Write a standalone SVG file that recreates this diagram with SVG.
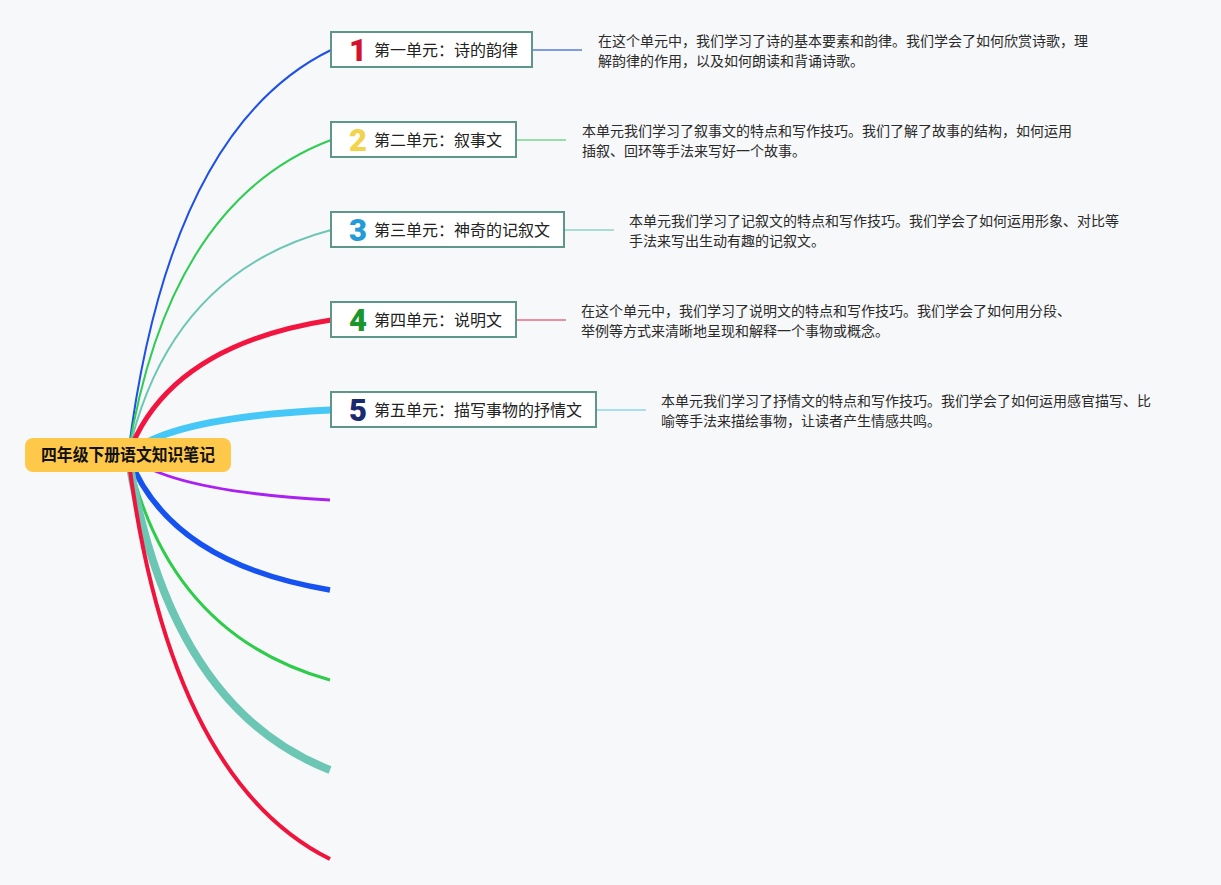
<svg xmlns="http://www.w3.org/2000/svg" width="1221" height="885" viewBox="0 0 1221 885">
<style>
.bg{fill:#f7f8f9}
.ln{fill:none;stroke-linecap:butt}
.node rect{fill:#ffffff;stroke:#5e978a;stroke-width:2}
.lbl{font-family:"Noto Sans CJK SC","Noto Sans",sans-serif;font-size:16px;fill:#222}
.num{font-family:Roboto,"Liberation Sans",sans-serif;font-weight:900;font-size:31px;text-anchor:middle}
.desc{font-family:"Noto Sans CJK SC","Noto Sans",sans-serif;font-size:14px;fill:#2a2a2a}
.root-t{font-family:"Noto Sans CJK SC","Noto Sans",sans-serif;font-size:16.5px;font-weight:bold;fill:#111}
</style>
<rect class="bg" x="0" y="0" width="1221" height="885"/>
<g id="connectors">
  <path class="ln" d="M128,455 Q168.4,129.4 331,50" stroke="#1e50e6" stroke-width="2"/>
  <path class="ln" d="M128,455 Q168.4,201.4 331,140" stroke="#2ecc52" stroke-width="2"/>
  <path class="ln" d="M128,455 Q168.4,273.4 331,230" stroke="#6cc6b4" stroke-width="2"/>
  <path class="ln" d="M128,455 Q168.4,345.4 331,320" stroke="#f2153f" stroke-width="5"/>
  <path class="ln" d="M128,455 Q168.4,417.4 331,410" stroke="#45c8f7" stroke-width="7"/>
  <path class="ln" d="M128,455 Q168.4,491 330,500" stroke="#aa1ff2" stroke-width="3"/>
  <path class="ln" d="M128,455 Q168.4,563 330,590" stroke="#1652f0" stroke-width="5.5"/>
  <path class="ln" d="M128,455 Q168.4,635 330,680" stroke="#2ecc4a" stroke-width="3"/>
  <path class="ln" d="M128,455 Q168.4,707 330,770" stroke="#6cc6b4" stroke-width="8"/>
  <path class="ln" d="M128,455 Q168.4,778.2 330,859" stroke="#f0143c" stroke-width="4"/>
  <line x1="532" y1="50" x2="582" y2="50" stroke="#7f9be6" stroke-width="2"/>
  <line x1="516" y1="140" x2="566" y2="140" stroke="#97dea8" stroke-width="2"/>
  <line x1="564" y1="230" x2="614" y2="230" stroke="#a9ddd2" stroke-width="2"/>
  <line x1="516" y1="320" x2="566" y2="320" stroke="#ea8fa2" stroke-width="2"/>
  <line x1="596" y1="410" x2="646" y2="410" stroke="#a8ddef" stroke-width="2"/>
</g>
<g id="root">
  <rect x="25" y="438" width="206" height="34" rx="8" fill="#fec94b"/>
  <text class="root-t" x="41" y="461" textLength="174" lengthAdjust="spacingAndGlyphs">四年级下册语文知识笔记</text>
</g>
<g id="node1" class="node">
  <rect x="331" y="32" width="201" height="35"/>
  <text class="num" x="358" y="61" fill="#d3122e">1</text>
  <text class="lbl" x="374" y="56">第一单元：诗的韵律</text>
</g>
<g id="node2" class="node">
  <rect x="331" y="122" width="185" height="35"/>
  <text class="num" x="358" y="151" fill="#f3d34a">2</text>
  <text class="lbl" x="374" y="146">第二单元：叙事文</text>
</g>
<g id="node3" class="node">
  <rect x="331" y="212" width="233" height="35"/>
  <text class="num" x="358" y="241" fill="#229bd8">3</text>
  <text class="lbl" x="374" y="236">第三单元：神奇的记叙文</text>
</g>
<g id="node4" class="node">
  <rect x="331" y="302" width="185" height="35"/>
  <text class="num" x="358" y="331" fill="#1a962c">4</text>
  <text class="lbl" x="374" y="326">第四单元：说明文</text>
</g>
<g id="node5" class="node">
  <rect x="331" y="392" width="265" height="35"/>
  <text class="num" x="358" y="421" fill="#1b2a6e">5</text>
  <text class="lbl" x="374" y="416">第五单元：描写事物的抒情文</text>
</g>
<g id="desc1">
  <text class="desc" x="598" y="46">在这个单元中，我们学习了诗的基本要素和韵律。我们学会了如何欣赏诗歌，理</text>
  <text class="desc" x="598" y="66">解韵律的作用，以及如何朗读和背诵诗歌。</text>
</g>
<g id="desc2">
  <text class="desc" x="582" y="136">本单元我们学习了叙事文的特点和写作技巧。我们了解了故事的结构，如何运用</text>
  <text class="desc" x="582" y="156">插叙、回环等手法来写好一个故事。</text>
</g>
<g id="desc3">
  <text class="desc" x="629" y="226">本单元我们学习了记叙文的特点和写作技巧。我们学会了如何运用形象、对比等</text>
  <text class="desc" x="629" y="246">手法来写出生动有趣的记叙文。</text>
</g>
<g id="desc4">
  <text class="desc" x="581" y="316">在这个单元中，我们学习了说明文的特点和写作技巧。我们学会了如何用分段、</text>
  <text class="desc" x="581" y="336">举例等方式来清晰地呈现和解释一个事物或概念。</text>
</g>
<g id="desc5">
  <text class="desc" x="661" y="406">本单元我们学习了抒情文的特点和写作技巧。我们学会了如何运用感官描写、比</text>
  <text class="desc" x="661" y="426">喻等手法来描绘事物，让读者产生情感共鸣。</text>
</g>
</svg>
